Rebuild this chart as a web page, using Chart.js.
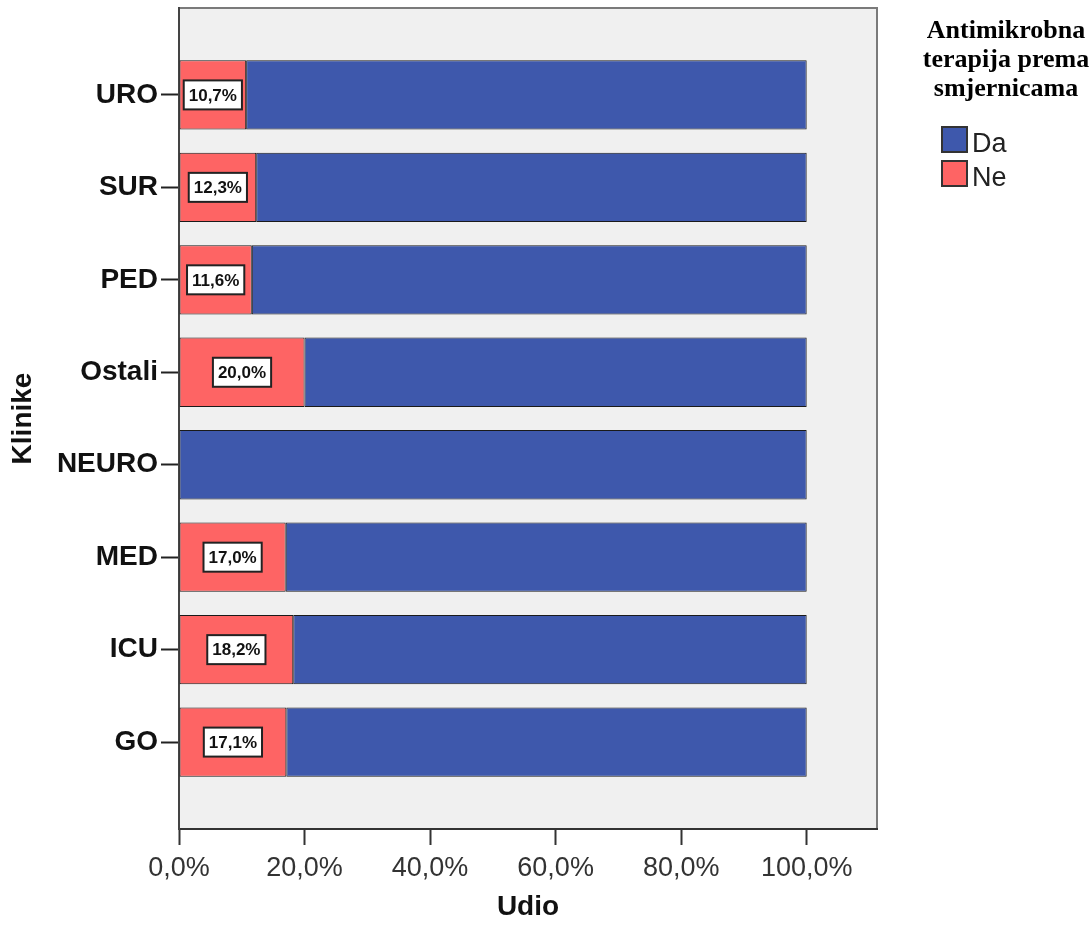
<!DOCTYPE html>
<html>
<head>
<meta charset="utf-8">
<script src="https://cdn.jsdelivr.net/npm/chart.js@4.4.1/dist/chart.umd.min.js"></script>
<style>
  html, body { margin: 0; padding: 0; background: #fff; }
  #wrap { width: 1092px; height: 930px; }
</style>
</head>
<body>
<div id="wrap"><canvas id="chart" width="1092" height="930"></canvas></div>
<script>
// Klinike, top to bottom
const clinics = ['URO', 'SUR', 'PED', 'Ostali', 'NEURO', 'MED', 'ICU', 'GO'];
// share of "Ne" (not according to guidelines), %
const neValues = [10.7, 12.3, 11.6, 20.0, 0, 17.0, 18.2, 17.1];
// share of "Da", %
const daValues = [89.3, 87.7, 88.4, 80.0, 100, 83.0, 81.8, 82.9];
const xTicks = [0, 20, 40, 60, 80, 100];
const legendTitle = ['Antimikrobna', 'terapija prema', 'smjernicama'];

const BLUE = '#3e58ac';
const RED = '#fe6464';
const BOLD = { family: '"Liberation Sans", Arial', size: 28, weight: 'bold' };

function pct(v) {
  return v.toFixed(1).replace('.', ',') + '%';
}

// grey plot background and frame
const plotBackground = {
  id: 'plotBackground',
  beforeDraw: function(chart) {
    const ctx = chart.ctx;
    const a = chart.chartArea;
    ctx.save();
    ctx.fillStyle = '#fff';
    ctx.fillRect(0, 0, chart.width, chart.height);
    ctx.fillStyle = '#f0f0f0';
    ctx.fillRect(a.left, a.top, a.right - a.left, a.bottom - a.top);
    ctx.strokeStyle = '#7a7a7a';
    ctx.lineWidth = 2;
    ctx.strokeRect(a.left, a.top, a.right - a.left, a.bottom - a.top);
    ctx.restore();
  }
};

// white boxes with the percentage of "Ne"
const valueBoxes = {
  id: 'valueBoxes',
  afterDatasetsDraw: function(chart) {
    const ctx = chart.ctx;
    const meta = chart.getDatasetMeta(0);
    ctx.save();
    ctx.font = 'bold 17px "Liberation Sans", Arial';
    ctx.textAlign = 'center';
    ctx.textBaseline = 'middle';
    meta.data.forEach((bar, i) => {
      const v = neValues[i];
      if (!v) return;
      const { x, y } = bar.getCenterPoint();
      const txt = pct(v);
      const w = ctx.measureText(txt).width + 10;
      const h = 29;
      ctx.fillStyle = '#fff';
      ctx.fillRect(x - w / 2, y - h / 2, w, h);
      ctx.strokeStyle = '#222';
      ctx.lineWidth = 2;
      ctx.strokeRect(x - w / 2, y - h / 2, w, h);
      ctx.fillStyle = '#111';
      ctx.fillText(txt, x, y + 1);
    });
    ctx.restore();
  }
};

// legend on the right, "Da" first
const sideLegend = {
  id: 'sideLegend',
  afterDraw: function(chart) {
    const ctx = chart.ctx;
    ctx.save();
    ctx.fillStyle = '#000';
    ctx.font = 'bold 26px "Liberation Serif"';
    ctx.textAlign = 'center';
    ctx.textBaseline = 'middle';
    legendTitle.forEach((line, i) => {
      ctx.fillText(line, 1006, 31 + i * 29);
    });
    ctx.font = '27px "Liberation Sans", Arial';
    ctx.textAlign = 'left';
    ctx.textBaseline = 'alphabetic';
    const sets = chart.data.datasets.slice().reverse();
    sets.forEach((ds, i) => {
      const y = 127 + i * 34;
      ctx.fillStyle = ds.backgroundColor;
      ctx.fillRect(942, y, 25, 25);
      ctx.strokeStyle = '#333';
      ctx.lineWidth = 2;
      ctx.strokeRect(942, y, 25, 25);
      ctx.fillStyle = '#222';
      ctx.fillText(ds.label, 972, y + 25);
    });
    ctx.restore();
  }
};

new Chart(document.getElementById('chart').getContext('2d'), {
  type: 'bar',
  data: {
    datasets: [
      {
        label: 'Ne',
        data: neValues.map((v, i) => ({ x: v, y: i })),
        backgroundColor: RED,
        borderColor: '#1a1a1a',
        borderWidth: 1,
        borderSkipped: false,
        stack: 'k'
      },
      {
        label: 'Da',
        data: daValues.map((v, i) => ({ x: v, y: i })),
        backgroundColor: BLUE,
        borderColor: '#1a1a1a',
        borderWidth: 1,
        borderSkipped: false,
        stack: 'k'
      }
    ]
  },
  options: {
    indexAxis: 'y',
    responsive: false,
    animation: false,
    layout: { padding: { top: 8, right: 215, left: 0, bottom: 0 } },
    datasets: { bar: { categoryPercentage: 0.75, barPercentage: 1 } },
    scales: {
      x: {
        type: 'linear',
        stacked: true,
        min: 0,
        max: 111.2,
        afterBuildTicks: function(scale) {
          scale.ticks = xTicks.map(v => ({ value: v }));
        },
        afterFit: function(scale) { scale.height = 101; },
        grid: { drawOnChartArea: false, tickLength: 16, tickColor: '#333', tickWidth: 2 },
        border: { color: '#333', width: 2 },
        ticks: {
          padding: 7,
          color: '#333',
          font: { family: '"Liberation Sans", Arial', size: 27 },
          callback: function(v) { return pct(v); }
        },
        title: {
          display: true,
          text: 'Udio',
          color: '#111',
          font: BOLD,
          padding: { bottom: 6 }
        }
      },
      y: {
        type: 'linear',
        reverse: true,
        offset: false,
        min: -0.94,
        max: 7.94,
        afterBuildTicks: function(scale) {
          scale.ticks = clinics.map((c, i) => ({ value: i }));
        },
        afterFit: function(scale) {
          scale.width = 179;
          scale.paddingTop = 0;
          scale.paddingBottom = 0;
        },
        grid: { offset: false, drawOnChartArea: false, tickLength: 18, tickColor: '#222', tickWidth: 2 },
        border: { color: '#444', width: 2 },
        ticks: {
          padding: 3,
          color: '#111',
          font: BOLD,
          callback: function(v) { return clinics[v]; }
        },
        title: {
          display: true,
          text: 'Klinike',
          color: '#111',
          font: BOLD,
          padding: { top: 6 }
        }
      }
    },
    plugins: {
      legend: { display: false },
      tooltip: { enabled: false }
    }
  },
  plugins: [plotBackground, valueBoxes, sideLegend]
});
</script>
</body>
</html>
